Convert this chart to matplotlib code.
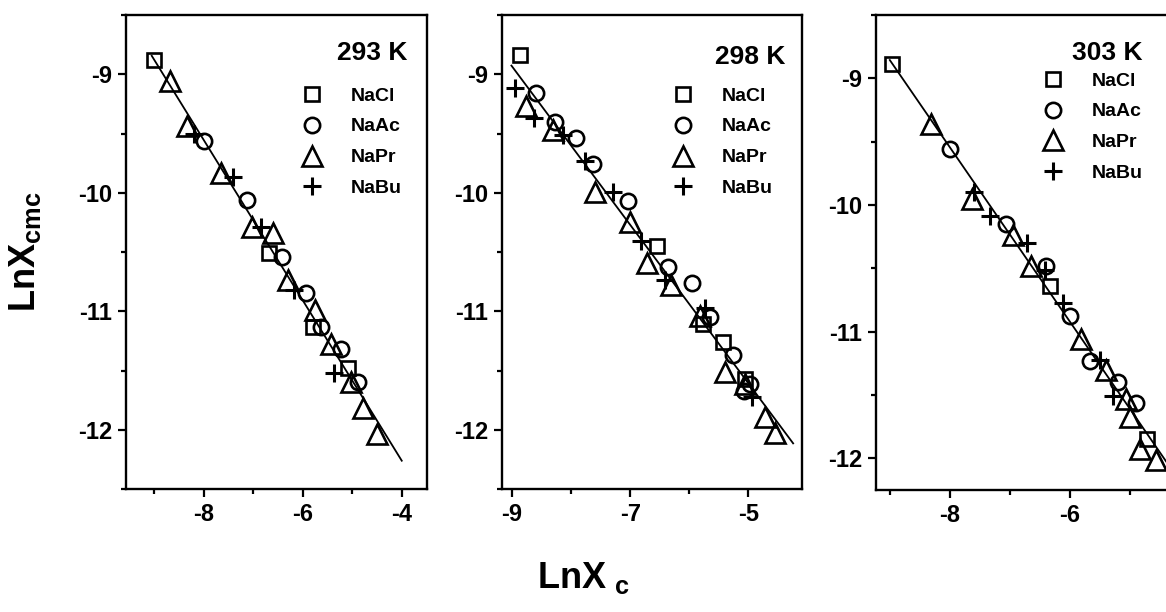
import numpy as np
import matplotlib
matplotlib.use("Agg")
import matplotlib.pyplot as plt
from matplotlib.ticker import MultipleLocator

plt.rcParams['font.family'] = ['Liberation Sans', 'DejaVu Sans']
plt.rcParams['font.weight'] = 'bold'
plt.rcParams['mathtext.fontset'] = 'custom'
plt.rcParams['mathtext.bf'] = 'Liberation Sans:bold'
plt.rcParams['mathtext.rm'] = 'Liberation Sans:bold'

salts = ["NaCl", "NaAc", "NaPr", "NaBu"]
temps = ["293 K", "298 K", "303 K"]

# 293 K  (LnXc, LnXcmc)
x293 = {
    "NaCl": [-9.01, -6.68, -5.80, -5.09],
    "NaAc": [-8.00, -7.12, -6.41, -5.93, -5.63, -5.22, -4.88],
    "NaPr": [-8.68, -8.34, -7.66, -7.02, -6.61, -6.30, -5.76, -5.43, -5.02, -4.78, -4.51],
    "NaBu": [-8.20, -7.40, -6.85, -6.17, -5.36],
}
y293 = {
    "NaCl": [-8.88, -10.51, -11.13, -11.48],
    "NaAc": [-9.56, -10.06, -10.54, -10.85, -11.13, -11.32, -11.60],
    "NaPr": [-9.06, -9.44, -9.83, -10.29, -10.34, -10.74, -10.99, -11.28, -11.60, -11.82, -12.04],
    "NaBu": [-9.50, -9.87, -10.29, -10.82, -11.52],
}
# 298 K
x298 = {
    "NaCl": [-8.87, -6.55, -5.76, -5.42, -5.06],
    "NaAc": [-8.59, -8.28, -7.91, -7.63, -7.03, -6.36, -5.96, -5.65, -5.25, -4.97, -5.08],
    "NaPr": [-8.76, -8.31, -7.60, -7.01, -6.72, -6.30, -5.82, -5.39, -5.06, -4.72, -4.55],
    "NaBu": [-8.95, -8.62, -8.14, -7.77, -7.29, -6.81, -6.41, -5.73, -4.94],
}
y298 = {
    "NaCl": [-8.84, -10.45, -11.11, -11.26, -11.57],
    "NaAc": [-9.16, -9.40, -9.54, -9.76, -10.07, -10.63, -10.76, -11.05, -11.37, -11.61, -11.67],
    "NaPr": [-9.27, -9.47, -9.99, -10.25, -10.59, -10.78, -11.04, -11.51, -11.61, -11.89, -12.03],
    "NaBu": [-9.12, -9.37, -9.51, -9.73, -9.99, -10.41, -10.74, -10.97, -11.72],
}
# 303 K
x303 = {
    "NaCl": [-8.97, -6.33, -4.72],
    "NaAc": [-8.00, -7.06, -6.39, -6.00, -5.67, -5.19, -4.89],
    "NaPr": [-8.31, -7.63, -6.94, -6.64, -5.81, -5.39, -5.06, -5.00, -4.83, -4.56],
    "NaBu": [-7.60, -7.33, -6.72, -6.42, -6.11, -5.50, -5.28],
}
y303 = {
    "NaCl": [-8.89, -10.64, -11.85],
    "NaAc": [-9.56, -10.15, -10.48, -10.88, -11.23, -11.40, -11.56],
    "NaPr": [-9.36, -9.95, -10.24, -10.48, -11.06, -11.30, -11.53, -11.67, -11.93, -12.01],
    "NaBu": [-9.90, -10.09, -10.30, -10.51, -10.77, -11.22, -11.51],
}

fit_range = [(-9.05, -4.0), (-9.01, -4.24), (-9.0, -4.0)]
xlims = [(-9.57, -3.49), (-9.17, -4.09), (-9.23, -4.23)]
ylims = [(-12.5, -8.5), (-12.5, -8.5), (-12.25, -8.5)]
xmajor = [[-8, -6, -4], [-9, -7, -5], [-8, -6]]

markers = {"NaCl": ("s", 9.5), "NaAc": ("o", 11), "NaPr": ("^", 14), "NaBu": ("+", 13)}

fig = plt.figure(figsize=(11.66, 6.12), dpi=100)
W, H = 1166, 612
boxes = [(126, 427, 15, 489), (502, 802, 15, 489), (876, 1176, 15, 490)]
title_pos = [(0.934, 0.92), (0.943, 0.911), (0.887, 0.92)]
leg_pos = [(0.58, 0.848), (0.563, 0.848), (0.55, 0.88)]

for i, (xs, ys) in enumerate([(x293, y293), (x298, y298), (x303, y303)]):
    l, r, t, b = boxes[i]
    ax = fig.add_axes([l / W, 1 - b / H, (r - l) / W, (b - t) / H])
    allx, ally = [], []
    for s in salts:
        m, ms = markers[s]
        ax.plot(xs[s], ys[s], linestyle='none', marker=m, markersize=ms,
                markerfacecolor='none', markeredgecolor='black',
                markeredgewidth=1.9 if m != '+' else 2.2, color='black', label=s, clip_on=False)
        allx += xs[s]
        ally += ys[s]
    k, c = np.polyfit(allx, ally, 1)
    xf = np.array(fit_range[i])
    ax.plot(xf, k * xf + c, color='black', lw=1.3)

    ax.set_xlim(*xlims[i])
    ax.set_ylim(*ylims[i])
    ax.set_xticks(xmajor[i])
    ax.xaxis.set_minor_locator(MultipleLocator(1))
    ax.yaxis.set_major_locator(MultipleLocator(1))
    ax.yaxis.set_minor_locator(MultipleLocator(0.5))
    ax.set_xticklabels([str(v) for v in xmajor[i]])
    ax.set_yticklabels([str(int(v)) for v in ax.get_yticks()])
    ax.tick_params(which='both', direction='out', width=1.6, labelsize=17,
                   top=False, right=False)
    ax.tick_params(which='major', length=6, pad=4)
    ax.tick_params(which='minor', length=3.5)
    for sp in ax.spines.values():
        sp.set_linewidth(1.7)

    ax.text(title_pos[i][0], title_pos[i][1], temps[i], transform=ax.transAxes,
            ha='right', va='center', fontsize=19, fontweight='bold')
    ax.legend(loc='upper left', bbox_to_anchor=leg_pos[i], frameon=False,
              handlelength=1.2, handletextpad=1.4, labelspacing=0.68,
              borderpad=0, borderaxespad=0, numpoints=1,
              prop={'weight': 'bold', 'size': 14})

fig.text(25 / W, 1 - 252 / H, r"LnX$_{\mathbf{cmc}}$", rotation=90,
         ha='center', va='center', fontsize=26, fontweight='bold')
fig.text(583 / W, 1 - 578 / H, r"LnX$_{\ \mathbf{c}}$",
         ha='center', va='center', fontsize=26, fontweight='bold')

fig.savefig("out.png", dpi=100)
